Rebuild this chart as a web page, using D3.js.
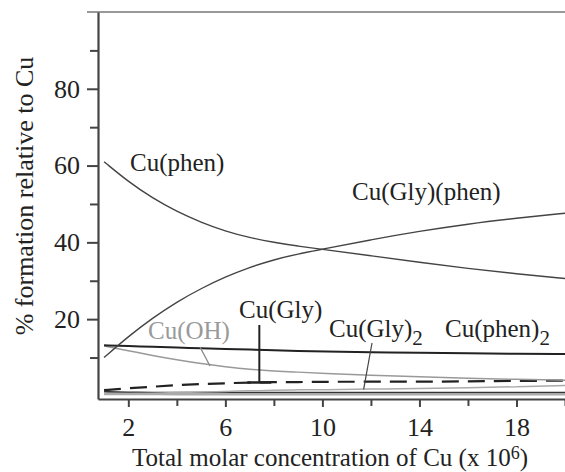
<!DOCTYPE html>
<html>
<head>
<meta charset="utf-8">
<script src="https://cdn.jsdelivr.net/npm/d3@7"></script>
</head>
<body style="margin:0; font-family: 'Liberation Serif';">
<svg id="chart" width="565" height="472" font-family="Liberation Serif"></svg>
<script>
// Total molar concentration of Cu (x 10^6)
const conc = [1, 2, 3, 4, 5, 6, 7, 8, 9, 10, 12, 14, 16, 18, 20];

// % formation of each species relative to total Cu
const cuPhen      = [61, 55.8, 51.5, 48, 45.2, 42.9, 41.2, 40, 39, 38.2, 36.5, 34.8, 33.2, 31.8, 30.6];
const cuGlyPhen   = [10, 15.5, 20.3, 24.5, 28, 31, 33.5, 35.5, 37, 38.2, 40.7, 42.9, 44.8, 46.3, 47.6];
const cuPhen2     = [13.2, 13, 12.8, 12.6, 12.4, 12.2, 12.1, 11.9, 11.7, 11.6, 11.4, 11.2, 11.1, 11, 10.9];
const cuOH        = [13, 11.8, 10.5, 9.4, 8.4, 7.6, 6.9, 6.5, 6.2, 5.9, 5.4, 5, 4.6, 4.3, 4.1];
const cuGly       = [1.5, 2, 2.4, 2.8, 3.1, 3.3, 3.5, 3.6, 3.6, 3.7, 3.7, 3.7, 3.8, 3.9, 4];
const cuGly2      = [0.5, 0.6, 0.7, 0.9, 1, 1.2, 1.3, 1.5, 1.6, 1.6, 1.8, 1.9, 2.1, 2.4, 2.7];
const minorBlack  = [1.1, 1, 0.9, 0.9, 0.9, 0.9, 0.9, 0.9, 0.9, 0.9, 0.9, 0.9, 0.9, 0.9, 0.9];
const minorGray   = [0.6, 0.6, 0.6, 0.5, 0.5, 0.5, 0.5, 0.5, 0.5, 0.5, 0.5, 0.5, 0.5, 0.5, 0.5];

const xMajorTicks = [2, 6, 10, 14, 18];
const xMinorTicks = [4, 8, 12, 16, 20];
const yMajorTicks = [20, 40, 60, 80];
const yMinorTicks = [10, 30, 50, 70, 90];

const FONT = "Liberation Serif";
const svg = d3.select("#chart");
svg.append("style").text("text, tspan { font-family: 'Liberation Serif' !important; }");

const x = d3.scaleLinear().domain([0.75, 20]).range([98, 565]);
const y = d3.scaleLinear().domain([-0.8, 100]).range([399, 12]);

// top frame line
svg.append("line")
  .attr("x1", 87).attr("x2", 565)
  .attr("y1", y(100)).attr("y2", y(100))
  .attr("stroke", "#777").attr("stroke-width", 1.5);

// y axis
svg.append("g").attr("transform", `translate(${x(0.75)},0)`)
  .call(d3.axisLeft(y).tickValues(yMajorTicks).tickSize(11).tickSizeOuter(0).tickPadding(7));
svg.append("g").attr("transform", `translate(${x(0.75)},0)`)
  .call(d3.axisLeft(y).tickValues(yMinorTicks).tickSize(8).tickSizeOuter(0).tickFormat(""))
  .select(".domain").remove();

// x axis
svg.append("g").attr("transform", `translate(0,${y(-0.8)})`)
  .call(d3.axisBottom(x).tickValues(xMajorTicks).tickSize(8).tickSizeOuter(0).tickPadding(11));
svg.append("g").attr("transform", `translate(0,${y(-0.8)})`)
  .call(d3.axisBottom(x).tickValues(xMinorTicks).tickSize(7).tickSizeOuter(0).tickFormat(""))
  .select(".domain").remove();

svg.selectAll("g").attr("font-family", FONT).attr("font-size", null);
svg.selectAll(".domain").attr("stroke", "#444").attr("stroke-width", 2.2);
svg.selectAll(".tick line").attr("stroke", "#444").attr("stroke-width", 2);
svg.selectAll(".tick text")
  .attr("font-family", FONT)
  .attr("font-size", 26).attr("fill", "#222");

// axis titles
svg.append("text")
  .attr("x", 330).attr("y", 466)
  .attr("text-anchor", "middle")
  .attr("font-family", FONT).attr("font-size", 25).attr("fill", "#222")
  .call(t => {
    t.append("tspan").text("Total molar concentration of Cu (x 10");
    t.append("tspan").attr("font-size", 18).attr("dy", -7).text("6");
    t.append("tspan").attr("dy", 7).text(")");
  });

svg.append("text")
  .attr("transform", "translate(33,196) rotate(-90)")
  .attr("text-anchor", "middle")
  .attr("font-family", FONT).attr("font-size", 26).attr("fill", "#222")
  .text("% formation relative to Cu");

// species curves
const line = vals => d3.line()
  .x((d, i) => x(conc[i]))
  .y(d => y(d))
  .curve(d3.curveBasis)(vals);

const plot = svg.append("g");

plot.append("path").attr("d", line(minorGray))
  .attr("fill", "none").attr("stroke", "#aaa").attr("stroke-width", 3);
plot.append("path").attr("d", line(minorBlack))
  .attr("fill", "none").attr("stroke", "#333").attr("stroke-width", 1.3);
plot.append("path").attr("d", line(cuGly2))
  .attr("fill", "none").attr("stroke", "#aaa").attr("stroke-width", 1.5);
plot.append("path").attr("d", line(cuGly))
  .attr("fill", "none").attr("stroke", "#222").attr("stroke-width", 2.2)
  .attr("stroke-dasharray", "17,9");
plot.append("path").attr("d", line(cuOH))
  .attr("fill", "none").attr("stroke", "#999").attr("stroke-width", 1.5);
plot.append("path").attr("d", line(cuPhen2))
  .attr("fill", "none").attr("stroke", "#222").attr("stroke-width", 2);
plot.append("path").attr("d", line(cuGlyPhen))
  .attr("fill", "none").attr("stroke", "#444").attr("stroke-width", 1.4);
plot.append("path").attr("d", line(cuPhen))
  .attr("fill", "none").attr("stroke", "#444").attr("stroke-width", 1.4);

// curve labels
const label = (px, py, main, sub, color) => {
  const t = svg.append("text").attr("x", px).attr("y", py)
    .attr("font-family", FONT).attr("font-size", 25).attr("fill", color || "#222");
  t.append("tspan").text(main);
  if (sub) t.append("tspan").attr("dy", 8).attr("font-size", 21).text(sub);
};
label(130, 171, "Cu(phen)");
label(352, 200, "Cu(Gly)(phen)");
label(239, 318, "Cu(Gly)");
label(148, 339, "Cu(OH)", null, "#999");
label(329, 337, "Cu(Gly)", "2");
label(445, 337, "Cu(phen)", "2");

// leader lines
const glyX = 7.4;
svg.append("line")
  .attr("x1", x(glyX)).attr("x2", x(glyX))
  .attr("y1", 325).attr("y2", y(cuGly[6]))
  .attr("stroke", "#222").attr("stroke-width", 2);
svg.append("line")
  .attr("x1", x(glyX) - 12).attr("x2", x(glyX) + 12)
  .attr("y1", y(cuGly[6])).attr("y2", y(cuGly[6]))
  .attr("stroke", "#222").attr("stroke-width", 2.5);
svg.append("line")
  .attr("x1", 200).attr("y1", 347).attr("x2", 210).attr("y2", y(7.8))
  .attr("stroke", "#888").attr("stroke-width", 1.3);
svg.append("line")
  .attr("x1", 372).attr("y1", 343).attr("x2", x(11.7)).attr("y2", y(1.7))
  .attr("stroke", "#444").attr("stroke-width", 1.2);
</script>
</body>
</html>
